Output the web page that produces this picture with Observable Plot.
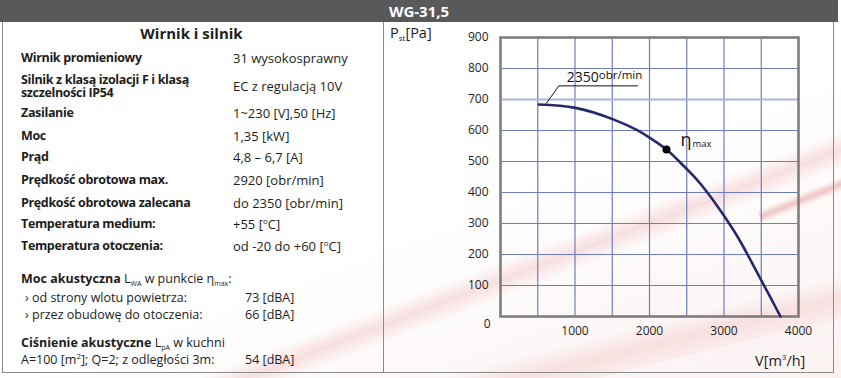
<!DOCTYPE html>
<html>
<head>
<meta charset="utf-8">
<script src="https://cdn.jsdelivr.net/npm/d3@7"></script>
<script src="https://cdn.jsdelivr.net/npm/@observablehq/plot@0.6"></script>
<style>
  html, body { margin: 0; padding: 0; background: #fff; }
  body { width: 841px; height: 378px; position: relative; overflow: hidden; font-family: 'Open Sans', sans-serif; color: #1d1d1b; }
  .bg { position: absolute; left: 0; top: 0; width: 841px; height: 378px; overflow: hidden; z-index: 0; }
  .sw { position: absolute; transform-origin: 0 50%; }
  .header { position: absolute; left: 0; top: 0; width: 838px; height: 22px; background: #58595b; color: #fff; font-weight: 700; font-size: 15px; line-height: 22px; text-align: center; z-index: 3; }
  .box { position: absolute; left: 2px; top: 21px; width: 830px; height: 351px; border: 1.5px solid #8a8a8a; border-top: none; z-index: 1; }
  .divider { position: absolute; left: 383px; top: 22px; width: 0; height: 351px; border-left: 1.5px solid #8a8a8a; z-index: 1; }
  .t { position: absolute; white-space: pre; z-index: 2; font-size: 12.5px; line-height: 16px; }
  .b { font-weight: 700; }
  .lab { font-weight: 700; letter-spacing: -0.35px; }
  .val { font-size: 13px; }
  .sub { font-size: 7px; vertical-align: -3px; line-height: 0; }
  .sup { font-size: 8px; vertical-align: 5px; line-height: 0; }
  #chart { position: absolute; left: 384px; top: 24px; z-index: 2; }
</style>
</head>
<body>
<div class="bg">
  <div class="sw" style="left:150px; top:398px; width:900px; height:34px; transform: rotate(-21deg); background: linear-gradient(to bottom, rgba(236,170,170,0), rgba(236,170,170,0.36) 50%, rgba(236,170,170,0));"></div>
  <div class="sw" style="left:380px; top:392px; width:700px; height:40px; transform: rotate(-14deg); background: linear-gradient(to bottom, rgba(236,170,170,0), rgba(236,170,170,0.3) 50%, rgba(236,170,170,0.12));"></div>
  <div class="sw" style="left:760px; top:210px; width:200px; height:14px; transform: rotate(-22deg); background: linear-gradient(to bottom, rgba(200,60,60,0), rgba(200,60,60,0.3) 50%, rgba(200,60,60,0));"></div>
  <div style="position:absolute; left:0; top:0; width:841px; height:378px; background: linear-gradient(160deg, rgba(255,255,255,0) 55%, rgba(240,200,200,0.25) 100%);"></div>
</div>
<div class="header" id="title"></div>
<div class="box"></div>
<div class="divider"></div>
<div id="left"></div>
<div id="chart"></div>
<script>
// ---------- data ----------
const modelName = "WG-31,5";
const sectionTitle = "Wirnik i silnik";
const specLabels = [
  "Wirnik promieniowy",
  "Silnik z klasą izolacji F i klasą\nszczelności IP54",
  "Zasilanie",
  "Moc",
  "Prąd",
  "Prędkość obrotowa max.",
  "Prędkość obrotowa zalecana",
  "Temperatura medium:",
  "Temperatura otoczenia:"
];
const specValues = [
  "31 wysokosprawny",
  "EC z regulacją 10V",
  "1~230 [V],50 [Hz]",
  "1,35 [kW]",
  "4,8 – 6,7 [A]",
  "2920 [obr/min]",
  "do 2350 [obr/min]",
  "+55 [°C]",
  "od -20 do +60 [°C]"
];
const noiseLabels = ["› od strony wlotu powietrza:", "› przez obudowę do otoczenia:"];
const noiseValues = ["73 [dBA]", "66 [dBA]"];
const pressureNoiseLabel = "A=100 [m²]; Q=2; z odległości 3m:";
const pressureNoiseValue = "54 [dBA]";

// fan curve: flow V [m3/h], static pressure Pst [Pa]
const flow     = [514, 1007, 1513, 1835, 2013, 2228, 2400, 2600, 2800, 3000, 3200, 3400, 3600, 3758];
const pressure = [684,  673,  636,  601,  575,  539,  500,  451,  393,  325,  250,  162,   72,    0];
const etaFlow = [2228];
const etaPressure = [539];
const speedText = "2350";
const speedUnit = "obr/min";
const leaderFlow = [617, 783, 1839];
const leaderPressure = [688, 744, 744];
const xTicks = [1000, 2000, 3000, 4000];
const yTicks = [100, 200, 300, 400, 500, 600, 700, 800, 900];
const xGrid = [500, 1000, 1500, 2000, 2500, 3000, 3500];
const yGrid = [100, 200, 300, 400, 500, 600, 800];
const yGridLight = [700];

// ---------- layout (positions only) ----------
const rowCenters = [58, 86, 113, 136, 157, 180, 203, 224, 246];
const labelX = 21, valueX = 233;

document.getElementById("title").textContent = modelName;
const left = document.getElementById("left");
function addText(html, x, cy, cls, lh) {
  const d = document.createElement("div");
  d.className = "t " + (cls || "");
  const l = lh || 16;
  d.style.lineHeight = l + "px";
  d.innerHTML = html;
  d.style.left = x + "px";
  const lines = html.split("\n").length;
  d.style.top = (cy - (lines * l) / 2) + "px";
  left.appendChild(d);
  return d;
}
const esc = s => s.replace(/&/g, "&amp;").replace(/</g, "&lt;");
const deg = s => esc(s).replace("°", '<span class="sup">o</span>');
addText(sectionTitle, 0, 33, "b", 18).style.cssText += "width:383px;text-align:center;font-size:15px;";
specLabels.forEach((s, i) => addText(esc(s), labelX, rowCenters[i], "lab", 13.5));
specValues.forEach((s, i) => addText(deg(s), valueX, rowCenters[i], "val"));

addText('<span class="b">Moc akustyczna</span> L<span class="sub">WA</span> w punkcie η<span class="sub">max</span>:', labelX, 279, "");
noiseLabels.forEach((s, i) => addText(esc(s), 25, [298, 315][i], ""));
noiseValues.forEach((s, i) => addText(esc(s), 245, [298, 315][i], ""));
addText('<span class="b">Ciśnienie akustyczne</span> L<span class="sub">pA</span> w kuchni', labelX, 343, "");
addText(esc(pressureNoiseLabel).replace("²", '<span class="sup">2</span>'), labelX, 360, "");
addText(esc(pressureNoiseValue), 245, 360, "");

// axis titles
const at1 = document.createElement("div");
at1.className = "t"; at1.style.cssText = "left:390px; top:24px; font-size:14.5px; line-height:18px;";
at1.innerHTML = 'P<span class="sub" style="font-size:8px">st</span>[Pa]';
document.body.appendChild(at1);
const at2 = document.createElement("div");
at2.className = "t"; at2.style.cssText = "left:755px; top:352px; font-size:14.5px; line-height:18px;";
at2.innerHTML = 'V[m<span class="sup" style="font-size:8px;vertical-align:6px">3</span>/h]';
document.body.appendChild(at2);

// ---------- chart ----------
const curve = flow.map((q, i) => ({q, p: pressure[i]}));
const eta = etaFlow.map((q, i) => ({q, p: etaPressure[i]}));
const leader = leaderFlow.map((q, i) => ({q, p: leaderPressure[i]}));

const chart = Plot.plot({
  width: 449,
  height: 349,
  marginLeft: 116,
  marginRight: 35,
  marginTop: 13,
  marginBottom: 57,
  style: {background: "transparent", fontFamily: "'Open Sans', sans-serif", fontSize: "12px", color: "#1d1d1b", overflow: "visible"},
  x: {domain: [0, 4000], ticks: xTicks, tickSize: 0, tickPadding: 10, label: null, tickFormat: d3.format("d")},
  y: {domain: [0, 900], ticks: yTicks, tickSize: 0, tickPadding: 12, label: null, tickFormat: d3.format("d")},
  marks: [
    Plot.ruleX(xGrid, {stroke: "#6d7dbf", strokeWidth: 1.2}),
    Plot.ruleY(yGrid, {stroke: "#6d7dbf", strokeWidth: 1.2}),
    Plot.ruleY(yGridLight, {stroke: "#a9b4da", strokeWidth: 2}),
    Plot.frame({stroke: "#7d7d7d", strokeWidth: 2.6}),
    Plot.line(curve, {x: "q", y: "p", curve: "natural", stroke: "#262a6b", strokeWidth: 2.6}),
    Plot.line(leader, {x: "q", y: "p", stroke: "#111", strokeWidth: 1}),
    Plot.dot(eta, {x: "q", y: "p", r: 4, fill: "#000", stroke: "none"}),
    Plot.text([leader[1]], {x: "q", y: "p", text: () => speedText, textAnchor: "start", lineAnchor: "bottom", dx: 8, dy: -4, fontSize: 14, fill: "#111"}),
    Plot.text([leader[1]], {x: "q", y: "p", text: () => speedUnit, textAnchor: "start", lineAnchor: "bottom", dx: 40, dy: -7, fontSize: 11.5, fill: "#111"}),
    Plot.text(eta, {x: "q", y: "p", text: () => "η", textAnchor: "start", lineAnchor: "bottom", dx: 14, dy: -3, fontSize: 18, fill: "#111"}),
    Plot.text(eta, {x: "q", y: "p", text: () => "max", textAnchor: "start", lineAnchor: "bottom", dx: 26, dy: -2, fontSize: 9.5, fill: "#111"}),
    Plot.text([0], {x: () => 0, y: () => 0, text: () => "0", textAnchor: "end", dx: -10, dy: 8, fontSize: 12, fill: "#1d1d1b"})
  ]
});
document.getElementById("chart").appendChild(chart);
</script>
</body>
</html>
